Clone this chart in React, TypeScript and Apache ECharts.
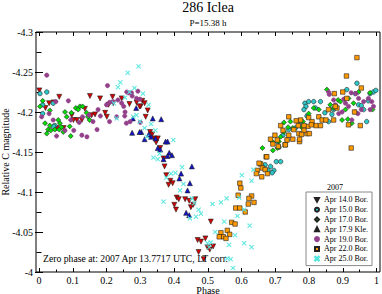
import React, { useEffect, useRef } from "react";
import * as echarts from "echarts";

const seriesNames = [
  "Apr 14.0 Bor.",
  "Apr 15.0 Bor.",
  "Apr 17.0 Bor.",
  "Apr 17.9 Kle.",
  "Apr 19.0 Bor.",
  "Apr 22.0 Bor.",
  "Apr 25.0 Bor.",
];

const xTickLabels = ["0", "0.1", "0.2", "0.3", "0.4", "0.5", "0.6", "0.7", "0.8", "0.9", "1"];
const yTickLabels = ["-4.3", "-4.25", "-4.2", "-4.15", "-4.1", "-4.05", "-4"];

const apr14 = [
  [0.001, -4.227], [0.06, -4.219], [0.03, -4.211], [0.043, -4.212], [0.151, -4.22], [0.181, -4.217],
  [0.218, -4.219], [0.245, -4.217], [0.019, -4.205], [0.097, -4.196], [0.112, -4.19], [0.127, -4.19],
  [0.156, -4.196], [0.196, -4.199], [0.201, -4.194], [0.166, -4.197], [0.206, -4.209], [0.136, -4.204],
  [0.073, -4.18], [0.053, -4.18], [0.102, -4.19], [0.22, -4.211], [0.268, -4.21], [0.289, -4.212],
  [0.301, -4.207], [0.306, -4.214], [0.313, -4.211], [0.298, -4.207], [0.322, -4.202], [0.316, -4.194],
  [0.329, -4.175], [0.335, -4.172], [0.342, -4.167], [0.352, -4.167], [0.347, -4.162], [0.359, -4.155],
  [0.369, -4.142], [0.372, -4.132], [0.377, -4.121], [0.389, -4.114], [0.396, -4.111], [0.384, -4.109],
  [0.408, -4.093], [0.414, -4.091], [0.401, -4.084], [0.406, -4.078], [0.433, -4.091], [0.445, -4.089],
  [0.45, -4.081], [0.457, -4.084], [0.463, -4.091], [0.509, -4.063], [0.47, -4.04], [0.48, -4.038],
  [0.493, -4.042], [0.499, -4.031], [0.506, -4.028], [0.516, -4.032], [0.473, -4.025], [0.488, -4.016],
];

const apr15 = [
  [0.003, -4.223], [0.023, -4.225], [0.011, -4.209], [0.011, -4.198], [0.042, -4.211], [0.047, -4.183],
  [0.043, -4.182], [0.703, -4.138], [0.716, -4.138], [0.686, -4.132], [0.696, -4.127], [0.679, -4.127],
  [0.691, -4.124], [0.706, -4.163], [0.711, -4.156], [0.67, -4.134], [0.723, -4.171], [0.74, -4.178],
  [0.76, -4.18], [0.768, -4.188], [0.778, -4.187], [0.788, -4.211], [0.799, -4.213], [0.791, -4.207],
  [0.814, -4.213], [0.834, -4.213], [0.858, -4.188], [0.873, -4.203], [0.912, -4.228], [0.942, -4.236],
  [0.937, -4.223], [0.947, -4.209], [0.962, -4.203], [0.971, -4.188], [0.981, -4.223], [0.991, -4.225],
  [0.998, -4.227], [0.819, -4.205], [0.847, -4.199], [0.868, -4.197], [0.955, -4.208], [0.976, -4.214],
  [0.785, -4.203], [0.794, -4.195],
];

const apr17 = [
  [0.011, -4.214], [0.003, -4.207], [0.032, -4.202], [0.018, -4.186], [0.032, -4.183], [0.027, -4.178],
  [0.035, -4.177], [0.047, -4.178], [0.06, -4.178], [0.067, -4.181], [0.062, -4.186], [0.072, -4.175],
  [0.094, -4.17], [0.082, -4.194], [0.077, -4.2], [0.096, -4.199], [0.109, -4.205], [0.121, -4.207],
  [0.129, -4.207], [0.116, -4.203], [0.141, -4.199], [0.145, -4.194], [0.15, -4.19], [0.091, -4.182],
  [0.057, -4.19], [0.023, -4.173], [0.662, -4.155], [0.691, -4.163], [0.706, -4.155], [0.711, -4.163],
  [0.716, -4.169], [0.726, -4.187], [0.738, -4.181], [0.745, -4.188], [0.752, -4.18], [0.778, -4.181],
  [0.782, -4.188], [0.799, -4.198], [0.814, -4.205], [0.829, -4.203], [0.853, -4.228], [0.886, -4.215],
  [0.893, -4.213], [0.908, -4.203], [0.917, -4.217], [0.932, -4.211], [0.915, -4.191], [0.947, -4.225],
  [0.981, -4.224], [0.988, -4.203], [0.898, -4.19], [0.927, -4.186], [0.726, -4.175], [0.735, -4.165],
  [0.693, -4.152], [0.863, -4.209], [0.873, -4.205],
];

const apr17k = [
  [0.337, -4.192], [0.362, -4.191], [0.303, -4.175], [0.313, -4.166], [0.325, -4.172], [0.332, -4.169],
  [0.345, -4.167], [0.375, -4.163], [0.381, -4.163], [0.352, -4.155], [0.359, -4.153], [0.386, -4.149],
  [0.394, -4.146], [0.381, -4.145], [0.369, -4.141], [0.453, -4.132], [0.421, -4.123], [0.416, -4.117],
  [0.447, -4.111], [0.44, -4.102], [0.436, -4.074], [0.445, -4.071], [0.276, -4.174], [0.298, -4.175],
  [0.288, -4.205], [0.278, -4.192],
];

const apr19 = [
  [0.023, -4.246], [0.203, -4.233], [0.087, -4.214], [0.05, -4.213], [0.042, -4.19], [0.052, -4.17],
  [0.077, -4.177], [0.103, -4.177], [0.119, -4.187], [0.094, -4.19], [0.129, -4.194], [0.172, -4.178],
  [0.175, -4.203], [0.182, -4.195], [0.2, -4.209], [0.209, -4.212], [0.219, -4.213], [0.234, -4.215],
  [0.251, -4.207], [0.254, -4.195], [0.259, -4.186], [0.266, -4.224], [0.008, -4.194], [0.03, -4.198],
  [0.148, -4.196], [0.16, -4.188], [0.142, -4.169], [0.245, -4.211], [0.26, -4.225], [0.274, -4.224],
  [0.289, -4.217], [0.299, -4.216], [0.255, -4.2], [0.23, -4.194], [0.127, -4.171], [0.209, -4.188],
  [0.276, -4.22], [0.293, -4.226], [0.27, -4.188], [0.3, -4.187], [0.858, -4.225], [0.86, -4.222],
  [0.903, -4.216], [0.925, -4.224], [0.939, -4.223], [0.947, -4.217], [0.962, -4.213], [0.976, -4.217],
  [0.986, -4.213], [0.991, -4.207], [0.981, -4.203], [0.937, -4.2], [0.945, -4.198], [0.917, -4.207],
  [0.898, -4.2], [0.888, -4.198], [0.878, -4.209], [0.927, -4.19], [0.955, -4.203], [0.873, -4.215],
  [0.908, -4.211],
];

const apr22 = [
  [0.595, -4.111], [0.598, -4.105], [0.59, -4.096], [0.583, -4.08], [0.595, -4.08], [0.62, -4.085],
  [0.558, -4.052], [0.565, -4.047], [0.539, -4.049], [0.546, -4.044], [0.534, -4.044], [0.554, -4.042],
  [0.673, -4.144], [0.657, -4.135], [0.662, -4.13], [0.647, -4.127], [0.644, -4.123], [0.67, -4.128],
  [0.63, -4.095], [0.622, -4.092], [0.637, -4.087], [0.611, -4.075], [0.571, -4.062], [0.581, -4.06],
  [0.729, -4.159], [0.772, -4.163], [0.942, -4.268], [0.911, -4.245], [0.955, -4.23], [0.875, -4.223],
  [0.9, -4.225], [0.912, -4.217], [0.883, -4.205], [0.858, -4.203], [0.873, -4.19], [0.952, -4.183],
  [0.917, -4.184], [0.935, -4.2], [0.925, -4.155], [0.829, -4.194], [0.839, -4.19], [0.85, -4.19],
  [0.821, -4.183], [0.834, -4.183], [0.799, -4.193], [0.809, -4.188], [0.797, -4.182], [0.807, -4.184],
  [0.762, -4.189], [0.768, -4.183], [0.785, -4.183], [0.794, -4.173], [0.755, -4.178], [0.785, -4.177],
  [0.752, -4.166], [0.77, -4.173], [0.801, -4.173], [0.716, -4.183], [0.723, -4.177], [0.699, -4.171],
  [0.686, -4.166], [0.693, -4.16], [0.706, -4.165], [0.73, -4.159], [0.735, -4.165], [0.772, -4.166],
  [0.778, -4.172], [0.675, -4.144], [0.652, -4.136], [0.677, -4.123], [0.66, -4.119], [0.709, -4.157],
  [0.74, -4.171], [0.775, -4.19], [0.74, -4.194], [0.878, -4.207],
];

const apr25 = [
  [0.263, -4.249], [0.295, -4.257], [0.241, -4.237], [0.234, -4.231], [0.283, -4.23], [0.308, -4.223],
  [0.268, -4.225], [0.255, -4.218], [0.222, -4.211], [0.23, -4.192], [0.289, -4.196], [0.279, -4.194],
  [0.299, -4.188], [0.325, -4.209], [0.332, -4.185], [0.313, -4.18], [0.345, -4.177], [0.32, -4.169],
  [0.398, -4.165], [0.339, -4.143], [0.352, -4.141], [0.357, -4.148], [0.424, -4.131], [0.391, -4.123],
  [0.404, -4.124], [0.377, -4.118], [0.428, -4.11], [0.418, -4.102], [0.369, -4.088], [0.453, -4.092],
  [0.46, -4.086], [0.473, -4.078], [0.48, -4.073], [0.465, -4.069], [0.447, -4.067], [0.514, -4.085],
  [0.539, -4.087], [0.549, -4.063], [0.522, -4.05], [0.499, -4.036], [0.509, -4.037], [0.504, -4.031],
  [0.563, -4.034], [0.581, -4.046], [0.558, -4.017], [0.568, -4.016], [0.575, -4.005], [0.608, -4.036],
  [0.556, -4.092], [0.601, -4.121], [0.63, -4.114], [0.593, -4.093], [0.588, -4.07], [0.624, -4.058],
  [0.63, -4.031], [0.608, -4.078], [0.635, -4.128],
];

const seriesData = [apr14, apr15, apr17, apr17k, apr19, apr22, apr25];

const FONT = "'Liberation Serif', 'DejaVu Serif', serif";
const TRI_DOWN = "path://M0,0L10,0L5,9Z";
const CROSS = "path://M0,1L1,0L5,4L9,0L10,1L6,5L10,9L9,10L5,6L1,10L0,9L4,5Z";

const styles = [
  { symbol: TRI_DOWN, size: 5, color: "#d40000", border: "#222" },
  { symbol: "circle", size: 4.5, color: "#2ec8c8", border: "#222" },
  { symbol: "diamond", size: 5, color: "#00dd00", border: "#222" },
  { symbol: "triangle", size: 5, color: "#1010c8", border: "#222" },
  { symbol: "circle", size: 4.3, color: "#93408a", border: "#93408a" },
  { symbol: "rect", size: 4.5, color: "#ff9a00", border: "#222" },
  { symbol: CROSS, size: 4.2, color: "#55e6de", border: "#55e6de" },
];

export default function App() {
  const ref = useRef<HTMLDivElement>(null);
  useEffect(() => {
    if (!ref.current) return;
    const chart = echarts.init(ref.current, null, { renderer: "svg" });
    const tickCommon = {
      axisLine: { show: false },
      axisTick: { show: true, inside: true, length: 4, lineStyle: { color: "#000", width: 1 } },
      minorTick: { show: true, splitNumber: 2, length: 2.5, lineStyle: { color: "#000", width: 1 } },
      splitLine: { show: false },
      minorSplitLine: { show: false },
    };
    const xLabel = {
      show: true,
      fontFamily: FONT,
      fontSize: 10,
      color: "#000",
      margin: 3,
      formatter: (v: number) => xTickLabels[Math.round(v * 10)] ?? "",
    };
    const yLabel = {
      show: true,
      fontFamily: FONT,
      fontSize: 10,
      color: "#000",
      margin: 3,
      formatter: (v: number) => yTickLabels[Math.round((v + 4.3) / 0.05)] ?? "",
    };
    const option = {
      animation: false,
      grid: { left: 39, right: 4, top: 32, bottom: 22, show: false },
      xAxis: [
        { type: "value", min: 0, max: 1, interval: 0.1, position: "bottom", ...tickCommon, axisLabel: xLabel },
        { type: "value", min: 0, max: 1, interval: 0.1, position: "top", ...tickCommon, axisLabel: { show: false } },
      ],
      yAxis: [
        { type: "value", min: -4.3, max: -4, interval: 0.05, inverse: true, position: "left", offset: 3, ...tickCommon, axisLabel: yLabel },
        { type: "value", min: -4.3, max: -4, interval: 0.05, inverse: true, position: "right", offset: 2, ...tickCommon, axisLabel: { show: false } },
      ],
      legend: {
        show: true,
        orient: "vertical",
        left: 306,
        top: 192,
        padding: [3, 4, 2, 8],
        itemWidth: 4,
        itemHeight: 4,
        itemGap: 0,
        selectedMode: false,
        backgroundColor: "#fff",
        borderColor: "#888",
        borderWidth: 1,
        textStyle: { fontFamily: FONT, fontSize: 8, lineHeight: 9.8, color: "#000" },
        data: seriesNames,
      },
      graphic: [
        { type: "rect", shape: { x: 36, y: 32, width: 344, height: 240 }, style: { fill: "none", stroke: "#000", lineWidth: 1 }, silent: true, z: 10 },
        { type: "text", x: 208, y: 7, style: { text: "286 Iclea", font: `14px ${FONT}`, fill: "#000", align: "center", verticalAlign: "middle" } },
        { type: "text", x: 208, y: 22.5, style: { text: "P=15.38 h", font: `9px ${FONT}`, fill: "#000", align: "center", verticalAlign: "middle" } },
        { type: "text", x: 208, y: 290, style: { text: "Phase", font: `10px ${FONT}`, fill: "#000", align: "center", verticalAlign: "middle" } },
        { type: "text", x: 5, y: 152, rotation: Math.PI / 2, style: { text: "Relative C magnitude", font: `10px ${FONT}`, fill: "#000", align: "center", verticalAlign: "middle" } },
        { type: "text", x: 43, y: 258, z: 20, style: { text: "Zero phase at: 2007 Apr 13.7717 UTC, LT corr.", font: `9.7px ${FONT}`, fill: "#000", align: "left", verticalAlign: "middle" } },
        { type: "text", x: 335, y: 187, z: 20, style: { text: "2007", font: `8px ${FONT}`, fill: "#000", align: "center", verticalAlign: "middle" } },
      ],
      series: seriesNames.map((name, i) => ({
        name,
        type: "scatter",
        data: seriesData[i],
        symbol: styles[i].symbol,
        symbolSize: styles[i].size,
        itemStyle: { color: styles[i].color, borderColor: styles[i].border, borderWidth: 0.6, opacity: 1 },
        emphasis: { disabled: true },
        clip: false,
      })),
    };
    chart.setOption(option as any);
    return () => chart.dispose();
  }, []);
  return <div ref={ref} style={{ width: 382, height: 294, position: "absolute", left: 0, top: 0 }} />;
}
